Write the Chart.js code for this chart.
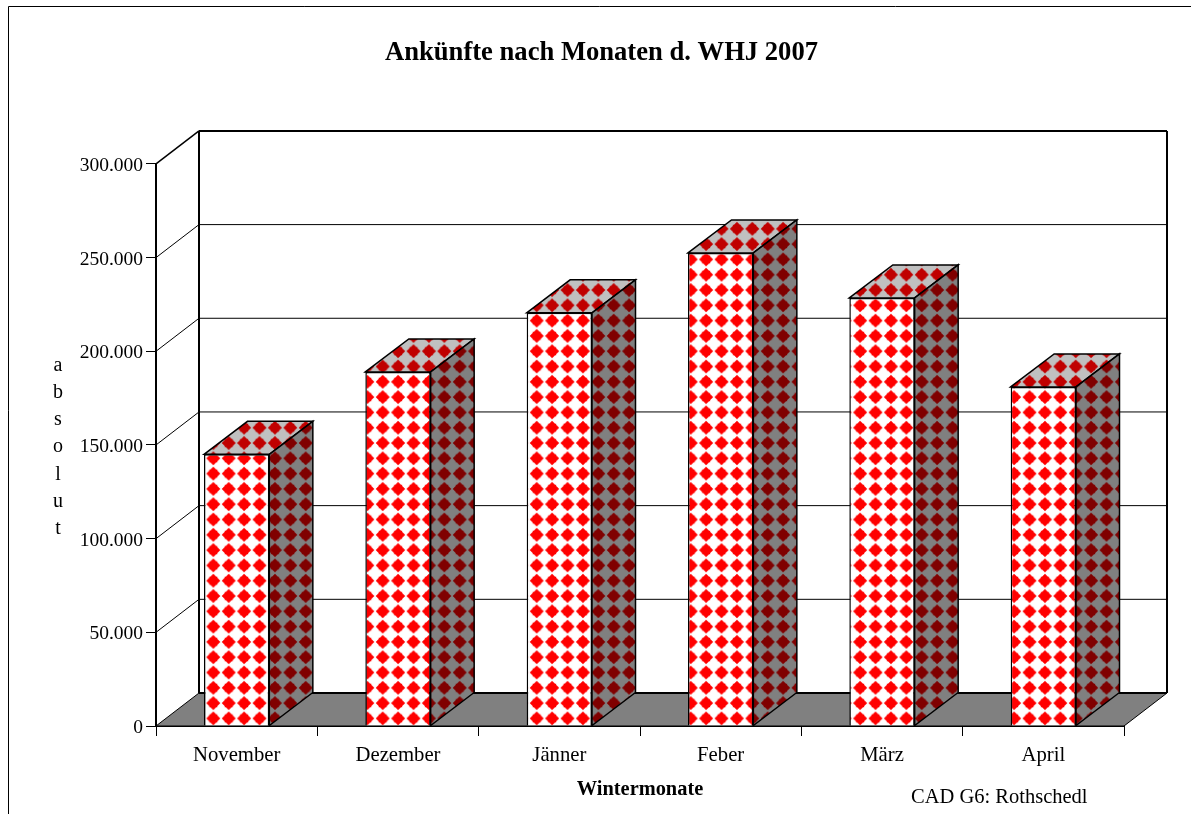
<!DOCTYPE html>
<html lang="de">
<head>
  <meta charset="UTF-8">
  <title>Ankünfte nach Monaten d. WHJ 2007</title>
  <script src="https://cdn.jsdelivr.net/npm/chart.js"></script>
  <style>
    html, body { margin: 0; padding: 0; background: #fff; overflow: hidden; }
    canvas { display: block; }
  </style>
</head>
<body>
  <canvas id="arrivalsChart" width="1191" height="814"></canvas>

  <script>
    const months = ['November', 'Dezember', 'Jänner', 'Feber', 'März', 'April'];
    const arrivals = [145000, 189000, 220500, 252500, 228500, 181000];
    const yTicks = [0, 50000, 100000, 150000, 200000, 250000, 300000];
    const yTitleLetters = ['a', 'b', 's', 'o', 'l', 'u', 't'];
    const chartTitle = 'Ankünfte nach Monaten d. WHJ 2007';
    const xTitle = 'Wintermonate';
    const credit = 'CAD G6: Rothschedl';

    const serif = '"Liberation Serif", "Times New Roman", serif';
    const depthX = 43, depthY = 33;

    // Rautenmuster wie im Original (Kachel wird leicht skaliert)
    function diamondPattern(bg, fg) {
      const tile = document.createElement('canvas');
      tile.width = tile.height = 16;
      const c = tile.getContext('2d');
      c.fillStyle = bg;
      c.fillRect(0, 0, 16, 16);
      c.filter = 'blur(0.4px)';
      c.fillStyle = fg;
      c.beginPath();
      c.moveTo(8, 0.7);
      c.lineTo(15.3, 8);
      c.lineTo(8, 15.3);
      c.lineTo(0.7, 8);
      c.closePath();
      c.rect(3.8, 3.8, 8.4, 8.4);
      c.fill('nonzero');
      const p = document.createElement('canvas').getContext('2d').createPattern(tile, 'repeat');
      p.setTransform(new DOMMatrix().translate(205.6, 450.65).scale(15.4 / 16, 15.3 / 16));
      return p;
    }
    const frontFill = diamondPattern('#ffffff', '#ff0000');
    const sideFill = diamondPattern('#808080', '#800000');
    const topFill = diamondPattern('#c0c0c0', '#c00000');

    function poly(ctx, pts, fill, lineWidth) {
      ctx.beginPath();
      pts.forEach((p, i) => i ? ctx.lineTo(p[0], p[1]) : ctx.moveTo(p[0], p[1]));
      ctx.closePath();
      if (fill) { ctx.fillStyle = fill; ctx.fill(); }
      ctx.lineWidth = lineWidth;
      ctx.strokeStyle = '#000';
      ctx.stroke();
    }

    function line(ctx, x1, y1, x2, y2, w) {
      ctx.beginPath();
      ctx.moveTo(x1, y1);
      ctx.lineTo(x2, y2);
      ctx.lineWidth = w;
      ctx.strokeStyle = '#000';
      ctx.stroke();
    }

    const room3d = {
      id: 'room3d',
      beforeDatasetsDraw(chart) {
        const ctx = chart.ctx;
        const { left, right, top, bottom } = chart.chartArea;
        const yScale = chart.scales.y;
        ctx.save();

        // Rahmen um die Grafik
        line(ctx, 8.5, 6.5, 1191, 6.5, 1);
        line(ctx, 8.5, 6.5, 8.5, 814, 1);

        // Hilfslinien auf Rück- und Seitenwand
        yTicks.forEach(v => {
          const y = yScale.getPixelForValue(v);
          if (v > 0 && v < 300000) {
            line(ctx, left, y, left + depthX, y - depthY, 1);
            line(ctx, left + depthX, y - depthY, right + depthX, y - depthY, 1);
          }
        });

        // Boden
        poly(ctx, [[left, bottom], [left + depthX, bottom - depthY], [right + depthX, bottom - depthY], [right, bottom]], '#808080', 1);
        line(ctx, left + depthX, bottom - depthY, right + depthX, bottom - depthY, 2);

        // Wände
        line(ctx, left + depthX, top - depthY, left + depthX, bottom - depthY, 2);
        line(ctx, left + depthX, top - depthY, right + depthX, top - depthY, 2);
        line(ctx, right + depthX, top - depthY, right + depthX, bottom - depthY, 2);
        line(ctx, left, top, left + depthX, top - depthY, 1.5);

        // Säulen: Dach und Seite
        chart.getDatasetMeta(0).data.forEach(bar => {
          const x1 = bar.x - bar.width / 2, x2 = bar.x + bar.width / 2;
          const d = depthX + 0.5;
          poly(ctx, [[x1, bar.y], [x1 + d, bar.y - depthY], [x2 + d, bar.y - depthY], [x2, bar.y]], topFill, 1.5);
          poly(ctx, [[x2, bar.y], [x2 + d, bar.y - depthY], [x2 + d, bar.base - depthY], [x2, bar.base]], sideFill, 1.5);
        });
        ctx.restore();
      },
      afterDraw(chart) {
        const ctx = chart.ctx;
        ctx.save();
        ctx.fillStyle = '#000';
        ctx.font = '20px ' + serif;
        ctx.textAlign = 'center';
        ctx.textBaseline = 'middle';
        yTitleLetters.forEach((ch, i) => ctx.fillText(ch, 58, 365.5 + i * 27.2));
        ctx.textAlign = 'left';
        ctx.font = '20.5px ' + serif;
        ctx.fillText(credit, 911, 798);
        ctx.restore();
      }
    };

    new Chart(document.getElementById('arrivalsChart').getContext('2d'), {
      type: 'bar',
      data: {
        labels: months,
        datasets: [{
          data: arrivals,
          backgroundColor: frontFill,
          borderColor: '#000',
          borderWidth: 1.5,
          barPercentage: 0.405,
          categoryPercentage: 1
        }]
      },
      options: {
        responsive: false,
        animation: false,
        layout: { padding: { left: 79, right: 67, top: 0, bottom: 0 } },
        plugins: {
          legend: { display: false },
          tooltip: { enabled: false },
          title: {
            display: true,
            text: chartTitle,
            color: '#000',
            font: { family: serif, size: 26.6, weight: 'bold', lineHeight: 1.2 },
            padding: { top: 37.5, bottom: 94.5 }
          }
        },
        scales: {
          x: {
            afterFit(scale) { scale.height = 88; },
            grid: { drawOnChartArea: false, color: '#000', tickLength: 10, tickColor: '#000' },
            border: { color: '#000', width: 2 },
            ticks: { color: '#000', font: { family: serif, size: 20.7 }, padding: 7, maxRotation: 0 },
            title: {
              display: true,
              text: xTitle,
              color: '#000',
              font: { family: serif, size: 20.4, weight: 'bold', lineHeight: 1.2 },
              padding: { top: 0, bottom: 12.5 }
            }
          },
          y: {
            min: 0,
            max: 300000,
            afterFit(scale) { scale.width = 77; },
            afterBuildTicks(scale) { scale.ticks = yTicks.map(v => ({ value: v })); },
            grid: { drawOnChartArea: false, color: '#000', tickLength: 10, tickColor: '#000' },
            border: { color: '#000', width: 2 },
            ticks: {
              color: '#000',
              font: { family: serif, size: 19.5 },
              padding: 3,
              labelOffset: 2,
              callback: v => v.toLocaleString('de-DE')
            }
          }
        }
      },
      plugins: [room3d]
    });
  </script>
</body>
</html>
